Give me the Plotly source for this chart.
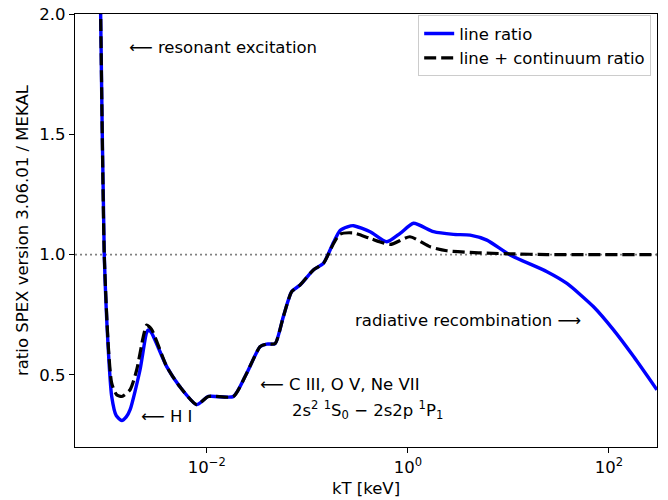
import plotly.graph_objects as go

# line ratio (blue)
kt_line = [7.94e-4, 8.81e-4, 9.57e-4, 1.05e-3, 1.135e-3, 1.26e-3, 1.43e-3, 1.585e-3, 1.73e-3,
           2.17e-3, 2.51e-3, 2.62e-3, 2.82e-3, 4.0e-3, 5.42e-3, 7.94e-3, 1.04e-2, 1.84e-2,
           2.5e-2, 3.39e-2, 3.95e-2, 4.79e-2, 5.78e-2, 7.0e-2, 8.47e-2, 0.115, 0.1445, 0.182,
           0.212, 0.251, 0.288, 0.422, 0.618, 0.838, 1.14, 1.80, 2.84, 4.17, 6.11, 10.4, 24.2,
           38.2, 70.3, 111, 176, 300]
ratio_line = [3.25, 2.0, 1.0, 0.604, 0.41, 0.33, 0.31, 0.325, 0.355,
              0.52, 0.673, 0.687, 0.675, 0.534, 0.45, 0.376, 0.41, 0.41,
              0.507, 0.617, 0.628, 0.63, 0.742, 0.846, 0.873, 0.936, 0.963, 1.05,
              1.10, 1.115, 1.12, 1.095, 1.053, 1.088, 1.13, 1.095, 1.084, 1.081, 1.06, 0.998, 0.929,
              0.88, 0.783, 0.687, 0.576, 0.438]

# line + continuum ratio (black dashed)
kt_cont = [7.94e-4, 8.81e-4, 9.57e-4, 1.05e-3, 1.135e-3, 1.27e-3, 1.43e-3, 1.73e-3, 2.01e-3,
           2.34e-3, 2.53e-3, 2.82e-3, 4.0e-3, 5.42e-3, 7.94e-3, 1.04e-2, 1.84e-2,
           2.5e-2, 3.39e-2, 3.95e-2, 4.79e-2, 5.78e-2, 7.0e-2, 8.47e-2, 0.115, 0.1445, 0.182,
           0.212, 0.288, 0.422, 0.667, 1.05, 1.67, 2.44, 4.17, 6.11, 10.4, 24.2, 300]
ratio_cont = [3.25, 2.0, 1.0, 0.62, 0.465, 0.417, 0.41, 0.438, 0.52,
              0.659, 0.707, 0.69, 0.534, 0.45, 0.376, 0.41, 0.41,
              0.507, 0.617, 0.628, 0.63, 0.742, 0.846, 0.873, 0.936, 0.963, 1.045,
              1.085, 1.09, 1.067, 1.042, 1.074, 1.032, 1.016, 1.009, 1.006, 1.003, 1.0, 1.0]

ref_x = [4.9e-4, 300]
ref_y = [1.0, 1.0]

xtick_vals = [1e-2, 1e0, 1e2]
xtick_text = ["10<sup>\u22122</sup>", "10<sup>0</sup>", "10<sup>2</sup>"]
ytick_vals = [0.5, 1.0, 1.5, 2.0]
ytick_text = ["0.5", "1.0", "1.5", "2.0"]

FONT = "DejaVu Sans"
FS = 16.5

fig = go.Figure()
fig.add_trace(go.Scatter(x=ref_x, y=ref_y, mode="lines", showlegend=False,
                         line=dict(color="#808080", width=1.8, dash="2px,3px")))
fig.add_trace(go.Scatter(x=kt_line, y=ratio_line, mode="lines", name="line ratio",
                         line=dict(color="#0000ff", width=3.4, shape="spline", smoothing=0.6)))
fig.add_trace(go.Scatter(x=kt_cont, y=ratio_cont, mode="lines", name="line + continuum ratio",
                         line=dict(color="#000000", width=3.2, dash="12px,5px",
                                   shape="spline", smoothing=0.6)))

ann = dict(showarrow=False, xanchor="left", yanchor="middle",
           font=dict(family=FONT, size=FS, color="black"))
fig.add_annotation(x=-2.793, y=1.861, text="\u27f5 resonant excitation", **ann)
fig.add_annotation(x=-2.674, y=0.326, text="\u27f5 H I", **ann)
fig.add_annotation(x=-1.490, y=0.459, text="\u27f5 C III, O V, Ne VII", **ann)
fig.add_annotation(x=-1.171, y=0.355,
                   text="2s<sup>2</sup> <sup>1</sup>S<sub>0</sub> \u2212 2s2p <sup>1</sup>P<sub>1</sub>", **ann)
fig.add_annotation(x=-0.544, y=0.724, text="radiative recombination \u27f6", **ann)

fig.update_layout(
    width=668, height=500,
    margin=dict(l=75, r=11, t=14, b=53, autoexpand=False),
    paper_bgcolor="white", plot_bgcolor="white",
    font=dict(family=FONT, size=FS, color="black"),
    legend=dict(x=0.99, y=0.997, xanchor="right", yanchor="top",
                bordercolor="#cccccc", borderwidth=1, bgcolor="rgba(255,255,255,0.8)",
                font=dict(family=FONT, size=FS), tracegroupgap=2),
    xaxis=dict(type="log", range=[-3.31, 2.478], tickvals=xtick_vals, ticktext=xtick_text,
               ticks="outside", ticklen=5, tickwidth=1.2, tickcolor="black",
               tickfont=dict(family=FONT, size=FS),
               showline=True, linecolor="black", linewidth=1.2, mirror=True,
               showgrid=False, zeroline=False, automargin=False,
               title=dict(text="kT [keV]", standoff=6, font=dict(family=FONT, size=FS))),
    yaxis=dict(range=[0.2, 2.0], tickvals=ytick_vals, ticktext=ytick_text,
               ticks="outside", ticklen=5, tickwidth=1.2, tickcolor="black",
               tickfont=dict(family=FONT, size=FS),
               showline=True, linecolor="black", linewidth=1.2, mirror=True,
               showgrid=False, zeroline=False, automargin=False,
               title=dict(text="ratio SPEX version 3.06.01 / MEKAL", standoff=6,
                          font=dict(family=FONT, size=FS))),
)

fig.write_html("out.html", config={"displayModeBar": False},
               post_script="document.body.style.margin='0px';document.body.style.overflow='hidden';")
